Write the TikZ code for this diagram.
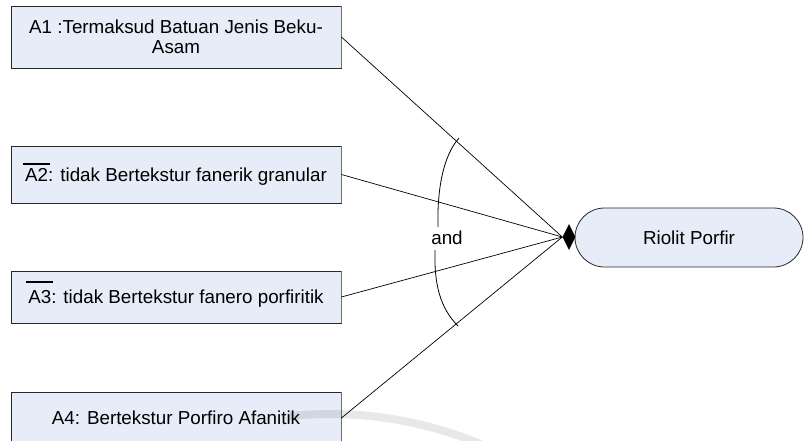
\documentclass[tikz,border=0pt]{standalone}
\usepackage{fontspec}
\setmainfont{Liberation Sans}
\usetikzlibrary{shapes.geometric}
\definecolor{boxfill}{RGB}{230,236,248}
\definecolor{boxline}{RGB}{40,40,40}
\definecolor{shadeline}{RGB}{112,112,112}
% bar drawn over a premise label (negation)
\newcommand\negbar[1]{\rlap{\hspace{-2pt}\smash{\raisebox{#1}{\rule{27pt}{1.5pt}}}}}

\begin{document}
\begin{tikzpicture}[x=1pt,y=-1pt,
  txt/.style={font=\fontsize{18.8}{20}\selectfont},
  cond/.style={txt, draw=boxline, fill=boxfill, line width=0.8pt,
    minimum width=330pt, inner sep=0pt, align=center},
  oneline/.style={text height=13.5pt, text depth=0pt},
  goal/.style={txt, draw=boxline, fill=boxfill, line width=0.8pt,
    rounded corners=29.5pt, minimum width=228pt, minimum height=59pt,
    inner sep=0pt, oneline},
  link/.style={line width=0.7pt, black},
  joint/.style={diamond, fill=black, inner sep=0pt,
    minimum width=13pt, minimum height=26pt},
  edge shade/.style={shadeline, line width=1.6pt},
]
\useasboundingbox (0,0) rectangle (805,441);

% premises
\node[cond, minimum height=62pt] (a1) at (176,37)
  {A1 :Termaksud Batuan Jenis Beku-\\Asam};
\node[cond, oneline, minimum height=57pt] (a2) at (176,174.5)
  {\negbar{16.5pt}A2: tidak Bertekstur fanerik granular};
\node[cond, oneline, minimum height=52pt] (a3) at (176,297)
  {\negbar{21pt}A3: tidak Bertekstur fanero porfiritik};
\node[cond, oneline, minimum height=52pt] (a4) at (176,418)
  {A4: Bertekstur Porfiro Afanitik};
\foreach \b in {a1,a2,a3,a4}
  \draw[edge shade] (\b.north east) -- (\b.south east);

% conclusion and conjunction point
\node[goal] (goal) at (689,237.5) {Riolit Porfir};
\node[joint] (tgt) at (569,237) {};

\draw[link] (a1.east) -- (tgt.west);
\draw[link] (a2.east) -- (tgt.west);
\draw[link] (a3.east) -- (tgt.west);
\draw[link] (a4.east) -- (tgt.west);

% "and" arc across the premise links
\draw[line width=0.8pt] (459,138) .. controls (443,156) and (437,190) .. (438,227);
\draw[line width=0.8pt] (435,250) .. controls (434,284) and (440,308) .. (458,326);
\node[txt, inner sep=0pt] (andlbl) at (447,238) {and};

% faint seal behind the lower edge
\draw[black, opacity=0.09, line width=8pt]
  (330,806) ++(-96:392) arc[start angle=-96, end angle=-64, radius=392];
\end{tikzpicture}
\end{document}
